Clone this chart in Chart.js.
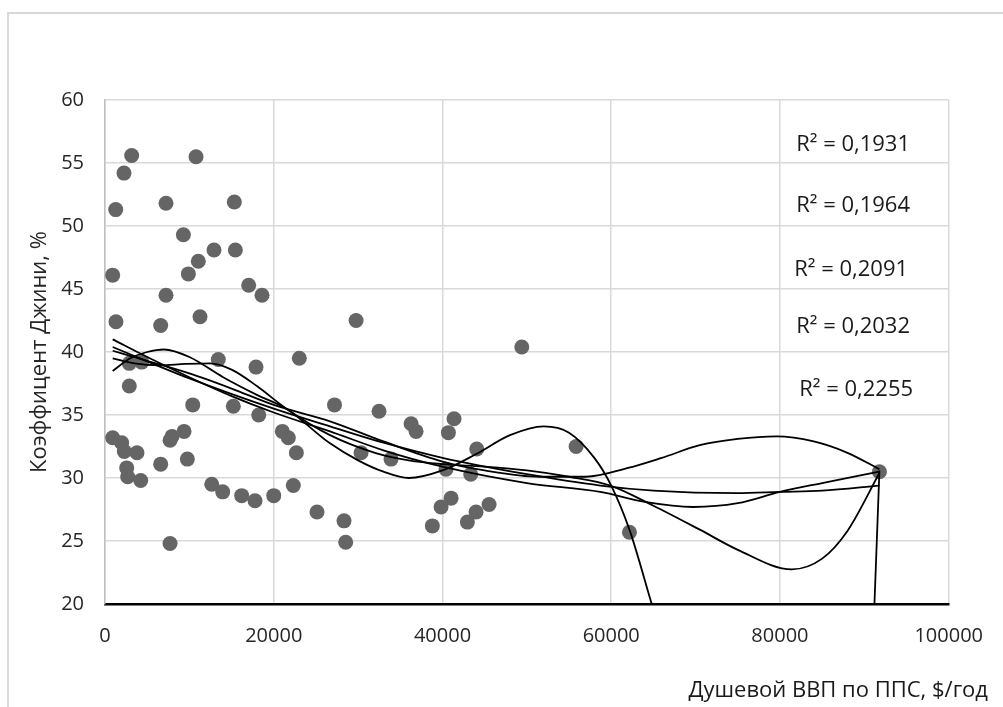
<!DOCTYPE html>
<html>
<head>
<meta charset="utf-8">
<script src="https://cdn.jsdelivr.net/npm/chart.js@4.4.0/dist/chart.umd.min.js"></script>
<style>
  html, body { margin: 0; padding: 0; background: #fff; overflow: hidden; }
  #wrap { position: relative; width: 1003px; height: 707px; }
  #frame { position: absolute; left: 7px; top: 12px; width: 1100px; height: 800px;
           border: 2px solid #d9d9d9; box-sizing: border-box; }
  canvas { position: absolute; left: 0; top: 0; }
</style>
</head>
<body>
<div id="wrap">
  <div id="frame"></div>
  <canvas id="chart" width="1003" height="707"></canvas>
</div>
<script>
// scatter points: GDP per capita (PPP) vs Gini
const gdpValues = [910, 1270, 1300, 2250, 3160, 910, 1980, 2290, 2570, 2690, 2880, 2880, 3790, 4230, 4350,
  6600, 6600, 7230, 7230, 7710, 7950, 7710, 9290, 9370, 9760, 9880, 10400, 10790, 11060, 11260, 12650,
  12920, 13430, 13950, 15210, 15330, 15450, 16200, 17030, 17780, 17900, 18220, 18610, 20000, 21020,
  21730, 22320, 22680, 23030, 25130, 27200, 28330, 28530, 29760, 30350, 32480, 33900, 36280, 36870,
  38800, 39830, 40420, 40700, 41020, 41370, 42950, 43350, 43980, 44060, 45520, 49400, 55840, 62160, 91790];
const giniValues = [46.1, 51.3, 42.4, 54.2, 55.6, 33.2, 32.8, 32.1, 30.8, 30.1, 39.1, 37.3, 32.0, 29.8, 39.2,
  42.1, 31.1, 51.8, 44.5, 33.0, 33.3, 24.8, 49.3, 33.7, 31.5, 46.2, 35.8, 55.5, 47.2, 42.8, 29.5,
  48.1, 39.4, 28.9, 35.7, 51.9, 48.1, 28.6, 45.3, 28.2, 38.8, 35.0, 44.5, 28.6, 33.7,
  33.2, 29.4, 32.0, 39.5, 27.3, 35.8, 26.6, 24.9, 42.5, 32.0, 35.3, 31.5, 34.3, 33.7,
  26.2, 27.7, 30.7, 33.6, 28.4, 34.7, 26.5, 30.3, 27.3, 32.3, 27.9, 40.4, 32.5, 25.7, 30.5];

// trend lines
const trend1X = [910, 10000, 20000, 26670, 33000, 40000, 50000, 58700, 65000, 74900, 80000, 85000, 91790];
const trend1Y = [40.4, 37.9, 35.5, 34.1, 32.8, 31.6, 30.3, 29.4, 29.0, 28.8, 28.9, 29.0, 29.4];

const trend2X = [910, 5000, 10000, 15000, 20000, 26670, 33000, 40000, 50000, 58700, 64000, 69700, 75000, 80000, 85000, 91790];
const trend2Y = [41.0, 39.6, 38.0, 36.5, 35.2, 33.7, 32.2, 30.9, 29.6, 28.9, 28.1, 27.7, 28.0, 28.9, 29.6, 30.5];

const trend3X = [910, 5000, 10000, 15000, 20000, 26670, 33000, 40000, 45000, 51500, 57000, 62000, 66000, 70500, 75000, 79600, 84000, 88000, 91790];
const trend3Y = [40.1, 39.3, 38.3, 37.1, 35.8, 34.5, 32.9, 31.3, 30.6, 30.1, 30.1, 30.8, 31.6, 32.6, 33.1, 33.3, 32.9, 32.0, 30.7];

const trend4X = [910, 3500, 6500, 9500, 12450, 15000, 18000, 21500, 26670, 32000, 36000, 40000, 45000, 50000, 55000, 59900, 65000, 70500, 75000, 81400, 85000, 88000, 91790];
const trend4Y = [39.5, 39.1, 38.95, 39.05, 39.1, 38.6, 37.3, 35.5, 33.4, 32.0, 31.4, 31.1, 30.9, 30.6, 30.1, 29.4, 27.8, 25.9, 24.3, 22.75, 23.6, 25.8, 30.4];

// this one drops below the axis between ~65000 and ~91000
const trend5X = [910, 3000, 5000, 7000, 10000, 14000, 18000, 21500, 26670, 30000, 33000, 36000, 40000, 44000, 48000, 52000, 55000, 58000, 60000, 62160, 64800, 78000, 91200, 91790];
const trend5Y = [38.5, 39.5, 40.0, 40.2, 39.6, 38.0, 36.6, 35.5, 32.75, 31.4, 30.5, 30.0, 30.6, 31.9, 33.4, 34.1, 33.6, 31.6, 29.4, 25.9, 20, null, 20, 30.6];

const rSquaredLabels = ['R² = 0,1931', 'R² = 0,1964', 'R² = 0,2091', 'R² = 0,2032', 'R² = 0,2255'];
const yTickValues = [20, 25, 30, 35, 40, 45, 50, 55, 60];
const xTickValues = [0, 20000, 40000, 60000, 80000, 100000];

const xTitle = 'Душевой ВВП по ППС, $/год';
const yTitle = 'Коэффицент Джини, %';

const zip = (xs, ys) => xs.map((x, i) => ({ x: x, y: ys[i] }));

const trendLine = (xs, ys) => ({
  type: 'line',
  data: zip(xs, ys),
  borderColor: '#000000',
  borderWidth: 1.8,
  pointRadius: 0,
  fill: false,
  spanGaps: false,
  cubicInterpolationMode: 'monotone',
  order: 0
});

// R² labels and the x axis title are drawn as plain text
const textPlugin = {
  id: 'textPlugin',
  afterDraw(chart) {
    const ctx = chart.ctx;
    const xs = chart.scales.x;
    const ys = chart.scales.y;
    const labelAnchors = [[88670, 56.43], [88670, 51.59], [88440, 46.56], [88670, 42.0], [89030, 36.98]];
    ctx.save();
    ctx.fillStyle = '#1a1a1a';
    ctx.font = '22px "Open Sans"';
    ctx.textAlign = 'center';
    ctx.textBaseline = 'middle';
    rSquaredLabels.forEach((t, i) => {
      ctx.fillText(t, xs.getPixelForValue(labelAnchors[i][0]), ys.getPixelForValue(labelAnchors[i][1]));
    });
    ctx.textAlign = 'right';
    ctx.textBaseline = 'alphabetic';
    ctx.fillText(xTitle, 988, 697);
    ctx.restore();
  }
};

new Chart(document.getElementById('chart'), {
  type: 'scatter',
  data: {
    datasets: [
      trendLine(trend1X, trend1Y),
      trendLine(trend2X, trend2Y),
      trendLine(trend3X, trend3Y),
      trendLine(trend4X, trend4Y),
      trendLine(trend5X, trend5Y),
      {
        type: 'scatter',
        data: zip(gdpValues, giniValues),
        backgroundColor: '#656565',
        borderWidth: 0,
        pointRadius: 7.5,
        pointHoverRadius: 7.5,
        order: 1
      }
    ]
  },
  options: {
    responsive: false,
    animation: false,
    layout: { padding: { top: 100, right: 54, left: 0, bottom: 0 } },
    plugins: {
      legend: { display: false },
      tooltip: { enabled: false }
    },
    scales: {
      x: {
        type: 'linear',
        min: 0,
        max: 100000,
        afterBuildTicks: (scale) => { scale.ticks = xTickValues.map(v => ({ value: v })); },
        afterFit: (scale) => { scale.height = 103; },
        grid: { color: '#d9d9d9', lineWidth: 1.5, drawTicks: false },
        border: { color: '#000000', width: 2.5 },
        ticks: {
          padding: 20,
          color: '#262626',
          font: { family: 'Open Sans', size: 20 },
          callback: (v) => String(v)
        }
      },
      y: {
        min: 20,
        max: 60,
        afterBuildTicks: (scale) => { scale.ticks = yTickValues.map(v => ({ value: v })); },
        afterFit: (scale) => { scale.width = 105; },
        grid: { color: '#d9d9d9', lineWidth: 1.5, drawTicks: false },
        border: { color: '#bfbfbf', width: 1.5 },
        ticks: {
          padding: 21,
          color: '#262626',
          font: { family: 'Open Sans', size: 20 },
          callback: (v) => String(v)
        },
        title: {
          display: true,
          text: yTitle,
          color: '#262626',
          font: { family: 'Open Sans', size: 22 },
          padding: { top: 27, bottom: 0 }
        }
      }
    }
  },
  plugins: [textPlugin]
});
</script>
</body>
</html>
